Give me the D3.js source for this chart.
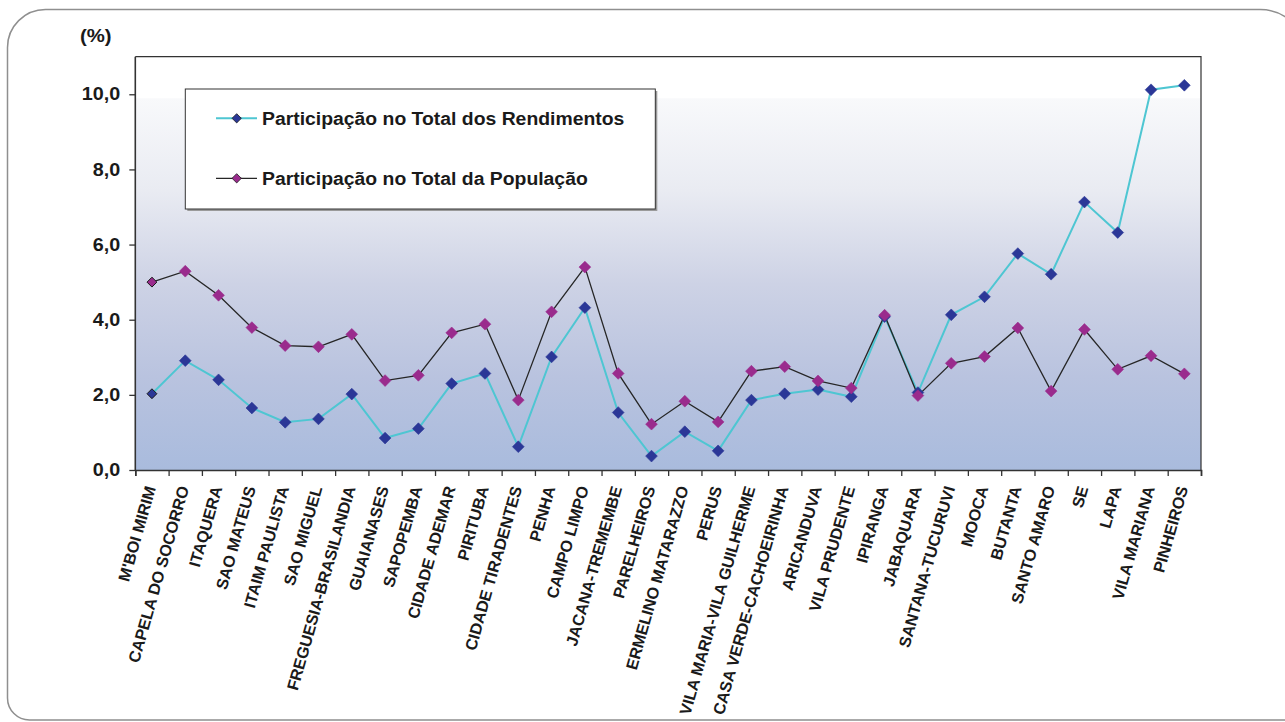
<!DOCTYPE html>
<html>
<head>
<meta charset="utf-8">
<script src="https://cdn.jsdelivr.net/npm/d3@7"></script>
<style>
  html, body { margin: 0; padding: 0; background: #fff; }
  svg { display: block; }
  text { font-family: "Liberation Sans", Arial, sans-serif; font-weight: bold; fill: #1a1a1a; }
</style>
</head>
<body>
<svg id="chart" width="1285" height="722"></svg>
<script>
// Subprefeituras, ordered as on the axis
const categories = [
  "M'BOI MIRIM", "CAPELA DO SOCORRO", "ITAQUERA", "SAO MATEUS", "ITAIM PAULISTA",
  "SAO MIGUEL", "FREGUESIA-BRASILANDIA", "GUAIANASES", "SAPOPEMBA", "CIDADE ADEMAR",
  "PIRITUBA", "CIDADE TIRADENTES", "PENHA", "CAMPO LIMPO", "JACANA-TREMEMBE",
  "PARELHEIROS", "ERMELINO MATARAZZO", "PERUS", "VILA MARIA-VILA GUILHERME",
  "CASA VERDE-CACHOEIRINHA", "ARICANDUVA", "VILA PRUDENTE", "IPIRANGA", "JABAQUARA",
  "SANTANA-TUCURUVI", "MOOCA", "BUTANTA", "SANTO AMARO", "SE", "LAPA",
  "VILA MARIANA", "PINHEIROS"
];

// Share of total income (%)
const rendimentos = [
  2.03, 2.91, 2.40, 1.65, 1.27, 1.36, 2.02, 0.85, 1.10, 2.30,
  2.57, 0.62, 3.01, 4.32, 1.53, 0.37, 1.02, 0.51, 1.86, 2.03,
  2.14, 1.95, 4.08, 2.06, 4.13, 4.61, 5.76, 5.21, 7.13, 6.32,
  10.12, 10.24
];

// Share of total population (%)
const populacao = [
  5.00, 5.29, 4.65, 3.79, 3.31, 3.28, 3.61, 2.38, 2.52, 3.65,
  3.88, 1.86, 4.21, 5.40, 2.57, 1.22, 1.83, 1.28, 2.63, 2.75,
  2.37, 2.18, 4.12, 1.98, 2.84, 3.02, 3.78, 2.10, 3.74, 2.68,
  3.04, 2.56
];

const yTicks = [0, 2, 4, 6, 8, 10];
const seriesNames = [
  "Participação no Total dos Rendimentos",
  "Participação no Total da População"
];
const unitLabel = "(%)";

const svg = d3.select("#chart");
const stretch = 1.13; // horizontal widening of the bold face

// rounded outer frame (corners of different radii)
{
  const L = 7.5, T = 9.5, R = 1307, B = 720;
  const rTL = 38, rTR = 47, rBL = 22, rBR = 22;
  const p = d3.path();
  p.moveTo(L + rTL, T);
  p.lineTo(R - rTR, T);
  p.arcTo(R, T, R, T + rTR, rTR);
  p.lineTo(R, B - rBR);
  p.arcTo(R, B, R - rBR, B, rBR);
  p.lineTo(L + rBL, B);
  p.arcTo(L, B, L, B - rBL, rBL);
  p.lineTo(L, T + rTL);
  p.arcTo(L, T, L + rTL, T, rTL);
  p.closePath();
  svg.append("path").attr("d", p.toString())
    .attr("fill", "none").attr("stroke", "#8f8f8f").attr("stroke-width", 1.5);
}

const plot = { left: 135.3, right: 1201, top: 56.7, bottom: 470 };

const x = d3.scaleBand().domain(categories).range([plot.left, plot.right]);
const xEdge = d3.scaleLinear().domain([0, categories.length]).range([plot.left, plot.right]);
const y = d3.scaleLinear().domain([0, 11]).range([plot.bottom, plot.top]);

// background gradient
const defs = svg.append("defs");
const grad = defs.append("linearGradient")
  .attr("id", "bg").attr("x1", 0).attr("y1", 0).attr("x2", 0).attr("y2", 1);
[["0%", "#f8f9fb"], ["25%", "#e9ebf2"], ["50%", "#cdd2e5"], ["75%", "#b9c3df"], ["100%", "#a9bbdd"]]
  .forEach(([o, c]) => grad.append("stop").attr("offset", o).attr("stop-color", c));

const gTop = y(10) + 4;
svg.append("rect")
  .attr("x", plot.left).attr("y", gTop)
  .attr("width", plot.right - plot.left)
  .attr("height", plot.bottom - gTop)
  .attr("fill", "url(#bg)");

// plot border (top and right)
svg.append("path")
  .attr("d", `M${plot.left},${plot.top}H${plot.right}V${plot.bottom}`)
  .attr("fill", "none").attr("stroke", "#333").attr("stroke-width", 1.2);

// y axis
const yAxis = svg.append("g")
  .attr("transform", `translate(${plot.left},0)`)
  .call(d3.axisLeft(y).tickValues(yTicks).tickSize(6).tickPadding(8)
    .tickFormat(d => d.toFixed(1).replace(".", ",")));
yAxis.select(".domain").attr("stroke", "#333").attr("stroke-width", 1.6)
  .attr("d", `M0,${plot.top}V${plot.bottom}`);
yAxis.selectAll(".tick line").attr("stroke", "#333").attr("stroke-width", 1.3);
yAxis.selectAll(".tick text")
  .attr("x", -15 / stretch)
  .attr("transform", `scale(${stretch},1)`)
  .attr("font-size", 17.5).attr("font-family", "Liberation Sans, Arial, sans-serif")
  .attr("font-weight", "bold").attr("fill", "#1a1a1a");

// x axis (ticks between categories)
const xAxis = svg.append("g")
  .attr("transform", `translate(0,${plot.bottom})`)
  .call(d3.axisBottom(xEdge).tickValues(d3.range(categories.length + 1)).tickSize(6).tickFormat(""));
xAxis.select(".domain").attr("stroke", "#333").attr("stroke-width", 1.6);
xAxis.selectAll(".tick line").attr("stroke", "#333").attr("stroke-width", 1.3);

// category labels
svg.append("g").selectAll("text")
  .data(categories)
  .join("text")
  .attr("transform", d => `translate(${x(d) + x.bandwidth() / 2 + 4},${plot.bottom + 18}) rotate(-74)`)
  .attr("text-anchor", "end")
  .attr("font-size", 16.2)
  .text(d => d);

// unit label
svg.append("text")
  .attr("transform", `translate(80,42) scale(${stretch},1)`)
  .attr("font-size", 18).text(unitLabel);

// lines and markers
const series = [
  { name: seriesNames[0], values: rendimentos, line: "#4ec6d2", width: 2, marker: "#2b3797" },
  { name: seriesNames[1], values: populacao, line: "#262626", width: 1.3, marker: "#9a2b8d" }
];

const lineGen = d3.line()
  .x((d, i) => x(categories[i]) + x.bandwidth() / 2)
  .y(d => y(d));

series.forEach(s => {
  svg.append("path")
    .datum(s.values)
    .attr("d", lineGen)
    .attr("fill", "none")
    .attr("stroke", s.line)
    .attr("stroke-width", s.width);
});

const bigDiamond = d3.symbol().type(d3.symbolDiamond2).size(88);
const smallDiamond = d3.symbol().type(d3.symbolDiamond2).size(62);
series.forEach(s => {
  svg.append("g").selectAll("path")
    .data(s.values)
    .join("path")
    .attr("d", (d, i) => i === 0 ? smallDiamond() : bigDiamond())
    .attr("transform", (d, i) => `translate(${x(categories[i]) + x.bandwidth() / 2},${y(d)})`)
    .attr("fill", s.marker)
    .attr("stroke", (d, i) => i === 0 ? "#1a1a1a" : s.marker)
    .attr("stroke-width", (d, i) => i === 0 ? 1 : 0.6);
});

// legend
const legend = svg.append("g");
legend.append("rect")
  .attr("x", 187.3).attr("y", 91).attr("width", 470).attr("height", 120)
  .attr("fill", "#9a9a9a");
legend.append("rect")
  .attr("x", 185.3).attr("y", 89).attr("width", 470).attr("height", 120)
  .attr("fill", "#fff").attr("stroke", "#333").attr("stroke-width", 1);

const legendRows = [118.3, 178.3];
series.forEach((s, i) => {
  const ly = legendRows[i];
  legend.append("line")
    .attr("x1", 216).attr("x2", 257).attr("y1", ly).attr("y2", ly)
    .attr("stroke", s.line).attr("stroke-width", s.width);
  legend.append("path")
    .attr("d", d3.symbol().type(d3.symbolDiamond2).size(55)())
    .attr("transform", `translate(236.7,${ly})`)
    .attr("fill", s.marker).attr("stroke", "#1a1a1a").attr("stroke-width", 0.8);
  legend.append("text")
    .attr("transform", `translate(262,${ly + 6.5}) scale(${stretch * 0.98},1)`)
    .attr("font-size", 17.5)
    .text(s.name);
});
</script>
</body>
</html>
